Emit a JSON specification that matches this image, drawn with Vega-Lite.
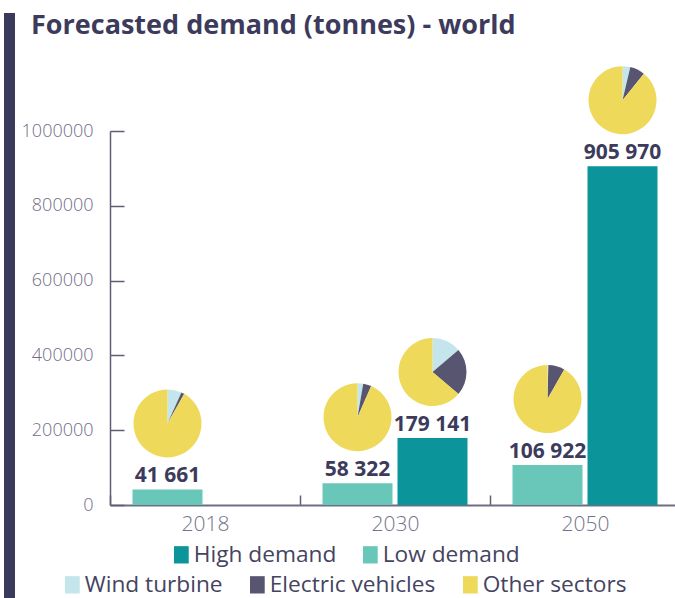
{
  "$schema": "https://vega.github.io/schema/vega-lite/v6.json",
  "width": 570,
  "height": 374,
  "autosize": "none",
  "padding": {"left": 110, "top": 131, "right": -5, "bottom": 93},
  "title": {
    "text": "Forecasted demand (tonnes) - world",
    "anchor": "start",
    "frame": "group",
    "dx": -79,
    "offset": -48,
    "baseline": "alphabetic",
    "font": "Open Sans",
    "fontSize": 27,
    "fontWeight": "bold",
    "color": "#3c3b5c"
  },
  "datasets": {
    "bars": [
      {"year": "2018", "scenario": "Low demand", "value": 41661},
      {"year": "2030", "scenario": "Low demand", "value": 58322},
      {"year": "2030", "scenario": "High demand", "value": 179141},
      {"year": "2050", "scenario": "Low demand", "value": 106922},
      {"year": "2050", "scenario": "High demand", "value": 905970}
    ],
    "pies": [
      {"year": "2018", "scenario": "Low demand", "value": 41661, "sector": "Wind turbine", "share": 6.7},
      {"year": "2018", "scenario": "Low demand", "value": 41661, "sector": "Electric vehicles", "share": 1.5},
      {"year": "2018", "scenario": "Low demand", "value": 41661, "sector": "Other sectors", "share": 91.8},
      {"year": "2030", "scenario": "Low demand", "value": 58322, "sector": "Wind turbine", "share": 2.7},
      {"year": "2030", "scenario": "Low demand", "value": 58322, "sector": "Electric vehicles", "share": 3.9},
      {"year": "2030", "scenario": "Low demand", "value": 58322, "sector": "Other sectors", "share": 93.4},
      {"year": "2030", "scenario": "High demand", "value": 179141, "sector": "Wind turbine", "share": 13.8},
      {"year": "2030", "scenario": "High demand", "value": 179141, "sector": "Electric vehicles", "share": 22.4},
      {"year": "2030", "scenario": "High demand", "value": 179141, "sector": "Other sectors", "share": 63.8},
      {"year": "2050", "scenario": "Low demand", "value": 106922, "sector": "Wind turbine", "share": 0.4},
      {"year": "2050", "scenario": "Low demand", "value": 106922, "sector": "Electric vehicles", "share": 7.8},
      {"year": "2050", "scenario": "Low demand", "value": 106922, "sector": "Other sectors", "share": 91.8},
      {"year": "2050", "scenario": "High demand", "value": 905970, "sector": "Wind turbine", "share": 3.7},
      {"year": "2050", "scenario": "High demand", "value": 905970, "sector": "Electric vehicles", "share": 7.1},
      {"year": "2050", "scenario": "High demand", "value": 905970, "sector": "Other sectors", "share": 89.2}
    ]
  },
  "encoding": {
    "x": {
      "field": "year",
      "type": "nominal",
      "scale": {"paddingInner": 0, "paddingOuter": 0},
      "axis": {
        "title": null,
        "labelAngle": 0,
        "tickBand": "extent",
        "tickSize": -10,
        "tickColor": "#5f5e76",
        "tickWidth": 1.5,
        "domainColor": "#6f6d85",
        "domainWidth": 2,
        "labelFont": "Open Sans",
        "labelFontSize": 21,
        "labelFontWeight": 300,
        "labelColor": "#74738a",
        "labelPadding": 18
      }
    },
    "xOffset": {
      "field": "scenario",
      "type": "nominal",
      "scale": {"domain": ["Low demand", "High demand"], "paddingInner": 0.0667, "paddingOuter": 0.3}
    },
    "y": {
      "field": "value",
      "type": "quantitative",
      "stack": null,
      "scale": {"domain": [0, 1000000], "nice": false},
      "axis": {
        "title": null,
        "grid": false,
        "values": [0, 200000, 400000, 600000, 800000, 1000000],
        "format": "d",
        "domainColor": "#5f5e76",
        "domainWidth": 1.5,
        "tickColor": "#5f5e76",
        "tickWidth": 1.5,
        "tickSize": -14,
        "labelPadding": 31,
        "labelFont": "Open Sans",
        "labelFontSize": 18,
        "labelFontWeight": 300,
        "labelColor": "#6f6e88"
      }
    }
  },
  "layer": [
    {
      "data": {"name": "bars"},
      "mark": {"type": "bar"},
      "encoding": {
        "color": {
          "field": "scenario",
          "type": "nominal",
          "scale": {"domain": ["High demand", "Low demand"], "range": ["#0b9499", "#68c7b9"]},
          "legend": {
            "orient": "none",
            "direction": "horizontal",
            "legendX": 60,
            "legendY": 412,
            "title": null,
            "symbolType": "M-0.85,-1H0.85V1H-0.85Z",
            "symbolSize": 300,
            "symbolStrokeWidth": 0,
            "labelFont": "Open Sans",
            "labelFontSize": 22.7,
            "labelColor": "#45445f",
            "labelOffset": 1,
            "columnPadding": 22,
            "labelLimit": 300
          }
        }
      }
    },
    {
      "data": {"name": "pies"},
      "transform": [
        {"stack": "share", "groupby": ["year", "scenario"], "offset": "normalize", "as": ["t0", "t1"]}
      ],
      "mark": {"type": "arc", "outerRadius": 34, "yOffset": -66},
      "encoding": {
        "y": {"field": "value", "type": "quantitative", "stack": null},
        "theta": {"field": "t0", "type": "quantitative", "scale": {"domain": [0, 1]}},
        "theta2": {"field": "t1"},
        "color": {
          "field": "sector",
          "type": "nominal",
          "scale": {"domain": ["Wind turbine", "Electric vehicles", "Other sectors"], "range": ["#c4e5ec", "#585571", "#efd95b"]},
          "legend": {
            "orient": "none",
            "direction": "horizontal",
            "legendX": -49,
            "legendY": 442,
            "title": null,
            "symbolType": "M-0.85,-1H0.85V1H-0.85Z",
            "symbolSize": 300,
            "symbolStrokeWidth": 0,
            "labelFont": "Open Sans",
            "labelFontSize": 22.7,
            "labelColor": "#45445f",
            "labelOffset": 1,
            "columnPadding": 23,
            "labelLimit": 300
          }
        }
      }
    },
    {
      "data": {"name": "bars"},
      "mark": {"type": "text", "baseline": "alphabetic", "dy": -7, "font": "Open Sans", "fontSize": 21, "fontWeight": "bold", "color": "#3c3b5c", "strokeWidth": 0},
      "encoding": {
        "text": {"field": "value", "type": "quantitative", "format": ",d"},
        "stroke": {
          "field": "value",
          "type": "quantitative",
          "scale": {"range": ["#3b3a5a", "#3b3a5a"]},
          "legend": {
            "orient": "none",
            "direction": "vertical",
            "legendX": -106,
            "legendY": -118,
            "title": null,
            "gradientLength": 585,
            "gradientThickness": 11,
            "gradientStrokeWidth": 0,
            "labelOpacity": 0,
            "labelFontSize": 1,
            "padding": 0
          }
        }
      }
    }
  ],
  "resolve": {"scale": {"color": "independent"}},
  "config": {
    "view": {"stroke": null},
    "font": "Open Sans",
    "locale": {"number": {"decimal": ".", "thousands": " ", "grouping": [3], "currency": ["", ""]}}
  }
}
